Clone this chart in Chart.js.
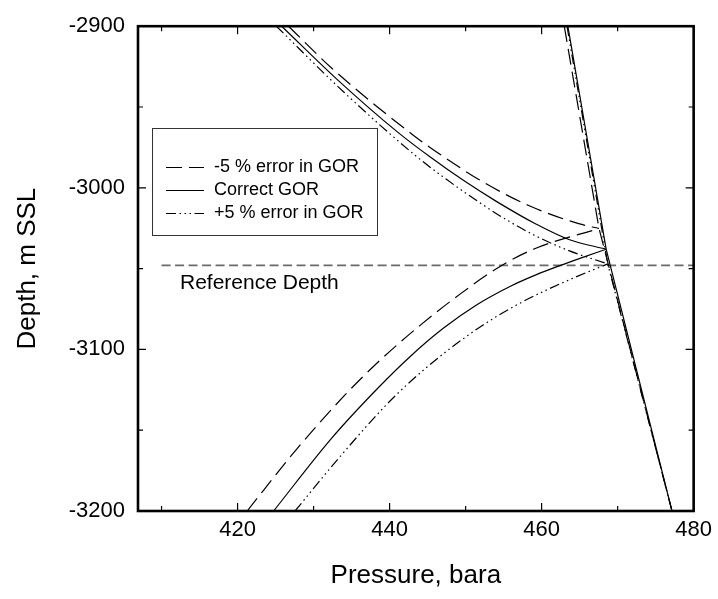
<!DOCTYPE html>
<html>
<head>
<meta charset="utf-8">
<script src="https://cdn.jsdelivr.net/npm/chart.js@4/dist/chart.umd.min.js"></script>
<style>
  html, body { margin: 0; padding: 0; background: #fff; }
  canvas { display: block; }
</style>
</head>
<body>
<canvas id="myChart" width="718" height="599"></canvas>
<script>
// axis ranges and ticks
const xRange = [406.9, 480]
const yRange = [-3200, -2900]
const xMajorTicks = [420, 440, 460, 480]
const xMinorTicks = [410, 430, 450, 470]
const yMajorTicks = [-2900, -3000, -3100, -3200]
const yMinorTicks = [-2950, -3050, -3150]

// reference depth (m SSL)
const refDepth = -3048
const refLineP = [410, 480]

// -5 % error in GOR (dashed)
const minusUpperP = [426.7, 432.4, 443.16, 447.1, 452.5, 458.37, 464.88, 467.55]
const minusUpperD = [-2900, -2926, -2967.6, -2980.8, -2997.0, -3011.1, -3022.2, -3025.2]
const minusLowerP = [421.26, 427.56, 434.07, 438.84, 444.05, 449.26, 454.69, 459.24, 467.55]
const minusLowerD = [-3200, -3162.9, -3128.5, -3106.3, -3085.0, -3065.8, -3048.2, -3037.4, -3025.2]
const minusPresP = [462.98, 467.55, 477.15]
const minusPresD = [-2900, -3025.2, -3200]

// correct GOR (solid)
const correctUpperP = [425.8, 433.3, 441.1, 445.35, 449.7, 454.04, 459.24, 463.58, 468.49]
const correctUpperD = [-2900, -2933.8, -2965.7, -2981.0, -2995.4, -3008.4, -3022.4, -3032.0, -3038]
const correctLowerP = [424.74, 432.33, 438.41, 442.75, 447.1, 451.43, 455.77, 459.24, 462.5, 465.32, 468.49]
const correctLowerD = [-3200, -3155.2, -3124.2, -3104.2, -3086.8, -3072.5, -3061.2, -3053.9, -3048.0, -3043.2, -3038]
const correctPresP = [463.45, 468.49, 477.15]
const correctPresD = [-2900, -3038, -3200]

// +5 % error in GOR (dash-dot)
const plusUpperP = [425.1, 434.0, 443.62, 447.52, 451.86, 455.34, 459.24, 463.58, 468.7]
const plusUpperD = [-2900, -2940.9, -2980.9, -2994.9, -3009.2, -3019.7, -3029.8, -3038.9, -3047.1]
const plusLowerP = [427.56, 433.2, 439.28, 442.32, 447.1, 452.3, 456.64, 460.12, 464.45, 468.7]
const plusLowerD = [-3200, -3167.9, -3135.7, -3121.7, -3102.6, -3084.9, -3072.7, -3064.4, -3055.3, -3047.1]
const plusPresP = [463.34, 468.7, 477.15]
const plusPresD = [-2900, -3047.1, -3200]

const legendLabels = ['-5 % error in GOR', 'Correct GOR', '+5 % error in GOR']

const FONT = '"Liberation Sans", Arial, Helvetica, sans-serif'
const dashes = {
  minus: [16, 7],
  correct: [],
  plus: [10, 3.5, 1.5, 3.5, 1.5, 3.5, 1.5, 3.5]
}

const toPts = (P, D) => P.map((p, i) => ({ x: p, y: D[i] }))

const curve = (P, D, dash, smooth) => ({
  data: toPts(P, D),
  showLine: true,
  borderColor: '#000',
  borderWidth: 1.2,
  borderDash: dash,
  pointRadius: 0,
  cubicInterpolationMode: smooth ? 'monotone' : 'default',
  tension: 0
})

const datasets = [
  curve(minusUpperP, minusUpperD, dashes.minus, true),
  curve(minusLowerP, minusLowerD, dashes.minus, true),
  curve(minusPresP, minusPresD, dashes.minus, false),
  curve(correctUpperP, correctUpperD, dashes.correct, true),
  curve(correctLowerP, correctLowerD, dashes.correct, true),
  curve(correctPresP, correctPresD, dashes.correct, false),
  curve(plusUpperP, plusUpperD, dashes.plus, true),
  curve(plusLowerP, plusLowerD, dashes.plus, true),
  curve(plusPresP, plusPresD, dashes.plus, false),
  {
    data: refLineP.map(p => ({ x: p, y: refDepth })),
    showLine: true,
    borderColor: '#6a6a6a',
    borderWidth: 1.6,
    borderDash: [9, 4.5],
    pointRadius: 0
  }
]

// frame, inward ticks, legend box and reference label
const decorations = {
  id: 'decorations',
  afterDraw(chart) {
    const { ctx, chartArea: a, scales: { x, y } } = chart
    ctx.save()
    ctx.strokeStyle = '#000'
    ctx.lineWidth = 1.2
    ctx.setLineDash([])
    const xt = (v, len) => {
      const px = x.getPixelForValue(v)
      ctx.beginPath()
      ctx.moveTo(px, a.bottom); ctx.lineTo(px, a.bottom - len)
      ctx.moveTo(px, a.top); ctx.lineTo(px, a.top + len)
      ctx.stroke()
    }
    const yt = (v, len) => {
      const py = y.getPixelForValue(v)
      ctx.beginPath()
      ctx.moveTo(a.left, py); ctx.lineTo(a.left + len, py)
      ctx.moveTo(a.right, py); ctx.lineTo(a.right - len, py)
      ctx.stroke()
    }
    xMajorTicks.forEach(v => xt(v, 8))
    xMinorTicks.forEach(v => xt(v, 5))
    yMajorTicks.forEach(v => yt(v, 8))
    yMinorTicks.forEach(v => yt(v, 5))

    ctx.lineWidth = 2.6
    ctx.strokeRect(a.left, a.top, a.right - a.left, a.bottom - a.top)

    // legend
    ctx.lineWidth = 1
    ctx.strokeStyle = '#333'
    ctx.fillStyle = '#fff'
    ctx.fillRect(152.5, 128.5, 225, 107)
    ctx.strokeRect(152.5, 128.5, 225, 107)
    const keys = ['minus', 'correct', 'plus']
    ctx.font = '18px ' + FONT
    ctx.textBaseline = 'middle'
    ctx.textAlign = 'left'
    legendLabels.forEach((label, i) => {
      const ly = 167.5 + i * 23
      ctx.strokeStyle = '#000'
      ctx.lineWidth = 1.2
      ctx.setLineDash(dashes[keys[i]])
      ctx.beginPath()
      ctx.moveTo(166, ly); ctx.lineTo(204, ly)
      ctx.stroke()
      ctx.setLineDash([])
      ctx.fillStyle = '#000'
      ctx.fillText(label, 214, ly)
    })

    // reference depth label
    ctx.font = '21px ' + FONT
    ctx.textBaseline = 'alphabetic'
    ctx.fillText('Reference Depth', 180, y.getPixelForValue(refDepth) + 24)
    ctx.restore()
  }
}

const ctx = document.getElementById('myChart').getContext('2d')
const chart = new Chart(ctx, {
  type: 'scatter',
  data: { datasets },
  options: {
    responsive: false,
    animation: false,
    devicePixelRatio: 1,
    events: [],
    layout: { padding: { left: 0, right: 18.5, top: 17, bottom: 0 } },
    plugins: { legend: { display: false }, tooltip: { enabled: false } },
    scales: {
      x: {
        type: 'linear',
        min: xRange[0],
        max: xRange[1],
        grid: { display: false, drawTicks: false },
        border: { display: false },
        afterFit: s => { s.height = 88 },
        afterBuildTicks: s => { s.ticks = xMajorTicks.map(v => ({ value: v })) },
        ticks: {
          padding: 6,
          color: '#000',
          font: { family: FONT, size: 22 },
          callback: v => String(v)
        },
        title: {
          display: true,
          text: 'Pressure, bara',
          color: '#000',
          font: { family: FONT, size: 26 },
          padding: { top: 0, bottom: 8 }
        }
      },
      y: {
        type: 'linear',
        min: yRange[0],
        max: yRange[1],
        grid: { display: false, drawTicks: false },
        border: { display: false },
        afterFit: s => { s.width = 138 },
        afterBuildTicks: s => { s.ticks = yMajorTicks.map(v => ({ value: v })) },
        ticks: {
          padding: 13,
          color: '#000',
          font: { family: FONT, size: 22 },
          callback: v => String(v)
        },
        title: {
          display: true,
          text: 'Depth, m SSL',
          color: '#000',
          font: { family: FONT, size: 26 },
          padding: { top: 12, bottom: 0 }
        }
      }
    }
  },
  plugins: [decorations]
})
</script>
</body>
</html>
